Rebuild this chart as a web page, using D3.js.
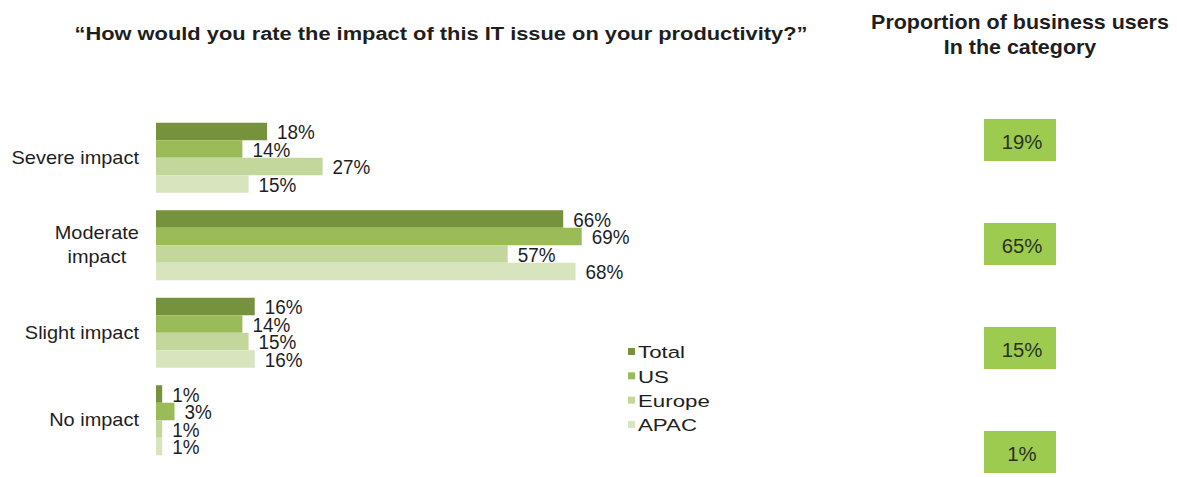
<!DOCTYPE html>
<html>
<head>
<meta charset="utf-8">
<script src="https://cdn.jsdelivr.net/npm/d3@7"></script>
<style>
  html, body { margin: 0; padding: 0; background: #fff; }
  svg { display: block; font-family: "Liberation Sans", Arial, sans-serif; }
</style>
</head>
<body>
<svg id="chart" width="1177" height="477"></svg>
<script>
// Survey answers: impact of an IT issue on productivity, by region
const categories = ["Severe impact", "Moderate impact", "Slight impact", "No impact"];
const categoryLines = [["Severe impact"], ["Moderate", "impact"], ["Slight impact"], ["No impact"]];
const seriesNames = ["Total", "US", "Europe", "APAC"];
const totalValues  = [18, 66, 16, 1];
const usValues     = [14, 69, 14, 3];
const europeValues = [27, 57, 15, 1];
const apacValues   = [15, 68, 16, 1];
const proportionValues = [19, 65, 15, 1];

const seriesValues = [totalValues, usValues, europeValues, apacValues];
const seriesColors = ["#76923c", "#9bbb59", "#c3d69b", "#d7e4bd"];

const svg = d3.select("#chart");
const textColor = "#1e1e1e";

// Places text at (x, y), widened horizontally around its anchor by sx
function label(parent, x, y, str, opts = {}) {
  const g = parent.append("g")
    .attr("transform", `translate(${x},${y}) scale(${opts.sx || 1},1)`);
  return g.append("text")
    .attr("x", 0).attr("y", 0)
    .attr("text-anchor", opts.anchor || "start")
    .attr("dominant-baseline", "central")
    .attr("font-size", opts.size || 17)
    .attr("font-weight", opts.weight || "normal")
    .attr("fill", opts.fill || textColor)
    .text(str);
}

const x = d3.scaleLinear().domain([0, 70]).range([156, 156 + 70 * 6.17]);
const y = d3.scaleBand().domain(categories).range([114, 464]).paddingInner(0.2).paddingOuter(0.1);
const ySeries = d3.scaleBand().domain(seriesNames).range([0, y.bandwidth()]);

// Titles
label(svg, 441, 33, "\u201CHow would you rate the impact of this IT issue on your productivity?\u201D",
  { anchor: "middle", size: 19, weight: "bold", sx: 1.15 });
label(svg, 1020, 22, "Proportion of business users", { anchor: "middle", size: 19.5, weight: "bold", sx: 1.1 });
label(svg, 1020, 47, "In the category", { anchor: "middle", size: 19.5, weight: "bold", sx: 1.1 });

// Bars and value labels
const groups = svg.selectAll("g.cat")
  .data(categories)
  .join("g")
  .attr("class", "cat")
  .attr("transform", d => `translate(0,${y(d)})`);

seriesNames.forEach((s, si) => {
  groups.append("rect")
    .attr("x", x(0))
    .attr("y", ySeries(s))
    .attr("width", (d, ci) => x(seriesValues[si][ci]) - x(0))
    .attr("height", ySeries.bandwidth())
    .attr("fill", seriesColors[si]);
  groups.each(function (d, ci) {
    const v = seriesValues[si][ci];
    label(d3.select(this), x(v) + 10, ySeries(s) + ySeries.bandwidth() / 2 + 1, v + "%", { size: 19.5, sx: 0.97 });
  });
});

// Category labels, right-aligned block with centred lines
const catSize = 17.5, catStretch = 1.14;
categories.forEach((c, ci) => {
  const lines = categoryLines[ci];
  const lh = 24;
  const cy = y(c) + y.bandwidth() / 2;
  const tmp = svg.append("g");
  const widths = lines.map(l => {
    const t = tmp.append("text").attr("font-size", catSize).text(l);
    return t.node().getComputedTextLength() * catStretch;
  });
  tmp.remove();
  const maxW = d3.max(widths);
  const right = 139;
  lines.forEach((l, li) => {
    label(svg, right - maxW / 2, cy + (li - (lines.length - 1) / 2) * lh, l,
      { anchor: "middle", size: catSize, sx: catStretch });
  });
});

// Legend
const legendY = d3.scalePoint().domain(seriesNames).range([351.5, 424.5]);
seriesNames.forEach((s, si) => {
  svg.append("rect")
    .attr("x", 628).attr("y", legendY(s) - 3.5)
    .attr("width", 7).attr("height", 7)
    .attr("fill", seriesColors[si]);
  label(svg, 638, legendY(s) + 1, s, { size: 16.5, sx: 1.35 });
});

// Proportion boxes on the right
const yBox = d3.scalePoint().domain(categories).range([140, 452]);
categories.forEach((c, ci) => {
  svg.append("rect")
    .attr("x", 984).attr("y", yBox(c) - 21)
    .attr("width", 72).attr("height", 42)
    .attr("fill", "#9dcb50");
  label(svg, 1022, yBox(c) + 1, proportionValues[ci] + "%", { anchor: "middle", size: 21, sx: 0.97, fill: "#2a3320" });
});
</script>
</body>
</html>
